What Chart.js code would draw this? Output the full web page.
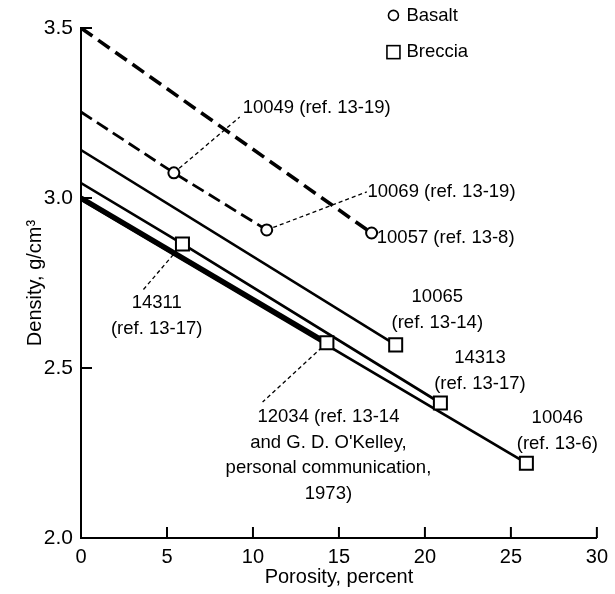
<!DOCTYPE html>
<html>
<head>
<meta charset="utf-8">
<script src="https://cdn.jsdelivr.net/npm/chart.js@4.4.1/dist/chart.umd.min.js"></script>
<style>
  html, body { margin: 0; padding: 0; background: #fff; }
  #wrap { width: 615px; height: 594px; }
</style>
</head>
<body>
<div id="wrap"><canvas id="densityChart" width="615" height="594"></canvas></div>
<script>
// porosity (percent) / density (g/cm3)
const porosity10057 = [0, 16.9];
const density10057  = [3.50, 2.897];
const porosity10049 = [0, 5.4, 10.8];           // 10049 and 10069 on one line
const density10049  = [3.253, 3.074, 2.906];
const porosity10065 = [0, 18.3];
const density10065  = [3.141, 2.568];
const porosity14311 = [0, 5.9, 20.9];           // 14311 and 14313
const density14311  = [3.044, 2.865, 2.397];
const porosity12034 = [0, 14.3];
const density12034  = [3.00, 2.574];
const porosity10046 = [0, 25.9];
const density10046  = [2.995, 2.22];

const xTicks = [0, 5, 10, 15, 20, 25, 30];
const yTicks = [2.0, 2.5, 3.0, 3.5];

const FONT = "'Liberation Sans', Arial, sans-serif";

function pts(xs, ys) {
    return xs.map((x, i) => ({ x: x, y: ys[i] }));
}

// marker only on measured samples, not on the line's start at 0
function radii(xs, r) {
    return xs.map((x, i) => i === 0 ? 0 : r);
}

function lineSet(xs, ys, style, width, dash) {
    return {
        data: pts(xs, ys),
        showLine: true,
        borderColor: '#000',
        borderWidth: width,
        borderDash: dash || [],
        pointStyle: style,
        pointRadius: radii(xs, style === 'rect' ? 9.2 : 5.5),
        pointHoverRadius: radii(xs, style === 'rect' ? 9.2 : 5.5),
        pointBackgroundColor: '#fff',
        pointBorderColor: '#000',
        pointBorderWidth: 2
    };
}

// first dataset is drawn on top
const datasets = [
    lineSet(porosity12034, density12034, 'rect', 5),
    lineSet(porosity14311, density14311, 'rect', 2.7),
    lineSet(porosity10065, density10065, 'rect', 2.5),
    lineSet(porosity10049, density10049, 'circle', 2.8, [13, 6]),
    lineSet(porosity10057, density10057, 'circle', 3.6, [14, 7]),
    lineSet(porosity10046, density10046, 'rect', 2.7)
];

// text notes, in data units
const notes = [
    { x: 9.4,   y: 3.265, align: 'left',   lines: ['10049 (ref. 13-19)'] },
    { x: 16.66, y: 3.018, align: 'left',   lines: ['10069 (ref. 13-19)'] },
    { x: 17.2,  y: 2.882, align: 'left',   lines: ['10057 (ref. 13-8)'] },
    { x: 4.4,   y: 2.691, align: 'center', lines: ['14311', '(ref. 13-17)'] },
    { x: 20.72, y: 2.709, align: 'center', lines: ['10065', '(ref. 13-14)'] },
    { x: 23.2,  y: 2.529, align: 'center', lines: ['14313', '(ref. 13-17)'] },
    { x: 27.7,  y: 2.353, align: 'center', lines: ['10046', '(ref. 13-6)'] },
    { x: 14.39, y: 2.356, align: 'center', lines: ['12034 (ref. 13-14', 'and G. D. O\'Kelley,', 'personal communication,', '1973)'] }
];

// dashed leader lines from a sample to its note
const leaders = [
    { from: [porosity10049[1], density10049[1]], to: [9.23, 3.238] },
    { from: [porosity10049[2], density10049[2]], to: [16.62, 3.018] },
    { from: [porosity14311[1], density14311[1]], to: [3.6, 2.729] },
    { from: [porosity12034[1], density12034[1]], to: [10.56, 2.40] }
];

const annotate = {
    id: 'annotate',
    beforeDatasetsDraw(chart) {
        const { ctx, scales: { x, y } } = chart;
        ctx.save();
        ctx.strokeStyle = '#000';
        ctx.lineWidth = 1.3;
        ctx.setLineDash([4, 3]);
        leaders.forEach(l => {
            ctx.beginPath();
            ctx.moveTo(x.getPixelForValue(l.from[0]), y.getPixelForValue(l.from[1]));
            ctx.lineTo(x.getPixelForValue(l.to[0]), y.getPixelForValue(l.to[1]));
            ctx.stroke();
        });
        ctx.restore();
    },
    afterDraw(chart) {
        const { ctx, chartArea: a, scales: { x, y } } = chart;
        ctx.save();
        // inward tick marks
        ctx.strokeStyle = '#000';
        ctx.lineWidth = 2;
        xTicks.slice(1).forEach(v => {
            const px = x.getPixelForValue(v);
            ctx.beginPath();
            ctx.moveTo(px, a.bottom);
            ctx.lineTo(px, a.bottom - 11);
            ctx.stroke();
        });
        yTicks.slice(1).forEach(v => {
            const py = y.getPixelForValue(v);
            ctx.beginPath();
            ctx.moveTo(a.left, py);
            ctx.lineTo(a.left + 11, py);
            ctx.stroke();
        });

        // notes
        ctx.fillStyle = '#000';
        ctx.font = '18.5px ' + FONT;
        ctx.textBaseline = 'middle';
        notes.forEach(n => {
            ctx.textAlign = n.align;
            const px = x.getPixelForValue(n.x);
            const py = y.getPixelForValue(n.y);
            n.lines.forEach((t, i) => ctx.fillText(t, px, py + i * 25.5));
        });

        // legend
        const lx = x.getPixelForValue(18.17);
        const ly1 = y.getPixelForValue(3.537);
        const ly2 = y.getPixelForValue(3.429);
        ctx.lineWidth = 1.6;
        ctx.beginPath();
        ctx.arc(lx, ly1, 5, 0, Math.PI * 2);
        ctx.stroke();
        ctx.strokeRect(lx - 6.5, ly2 - 6.5, 13, 13);
        ctx.textAlign = 'left';
        ctx.fillText('Basalt', lx + 13, ly1);
        ctx.fillText('Breccia', lx + 13, ly2);
        ctx.restore();
    }
};

new Chart(document.getElementById('densityChart'), {
    type: 'scatter',
    data: { datasets: datasets },
    options: {
        responsive: false,
        animation: false,
        devicePixelRatio: 1,
        layout: { padding: { top: 28, right: 17, left: 0, bottom: 0 } },
        plugins: {
            legend: { display: false },
            tooltip: { enabled: false }
        },
        scales: {
            x: {
                type: 'linear',
                min: 0,
                max: 30,
                afterBuildTicks: s => { s.ticks = xTicks.map(v => ({ value: v })); },
                afterFit: s => { s.height = 56; },
                grid: { drawOnChartArea: false, drawTicks: false },
                border: { color: '#000', width: 2 },
                ticks: { color: '#000', font: { family: FONT, size: 20 }, padding: 7, maxRotation: 0 },
                title: {
                    display: true,
                    text: 'Porosity, percent',
                    color: '#000',
                    font: { family: FONT, size: 20 },
                    padding: { top: 0, bottom: 5 }
                }
            },
            y: {
                type: 'linear',
                min: 2,
                max: 3.5,
                afterBuildTicks: s => { s.ticks = yTicks.map(v => ({ value: v })); },
                afterFit: s => { s.width = 81; },
                grid: { drawOnChartArea: false, drawTicks: false },
                border: { color: '#000', width: 2 },
                ticks: {
                    color: '#000',
                    font: { family: FONT, size: 21 },
                    padding: 8,
                    callback: v => v.toFixed(1)
                },
                title: {
                    display: true,
                    text: 'Density, g/cm³',
                    color: '#000',
                    font: { family: FONT, size: 20 },
                    padding: { top: 23, bottom: 0 }
                }
            }
        }
    },
    plugins: [annotate]
});
</script>
</body>
</html>
